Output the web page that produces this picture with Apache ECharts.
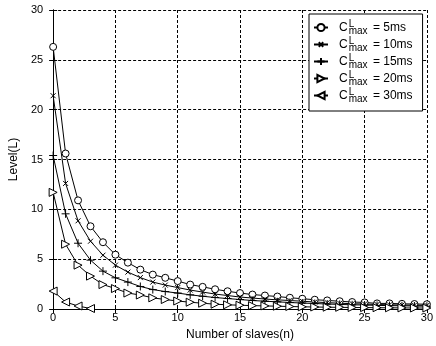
<!DOCTYPE html>
<html>
<head>
<meta charset="utf-8">
<script src="https://cdn.jsdelivr.net/npm/echarts@6/dist/echarts.min.js"></script>
<style>
  html, body { margin: 0; padding: 0; background: #fff; }
  #chart { width: 436px; height: 346px; }
</style>
</head>
<body>
<div id="chart"></div>
<script>
// Number of slaves on the x axis
const slaves = [0, 1, 2, 3, 4, 5, 6, 7, 8, 9, 10, 11, 12, 13, 14, 15, 16, 17, 18, 19, 20,
                21, 22, 23, 24, 25, 26, 27, 28, 29, 30];

// Tick values shared by both axes
const xTicks = [0, 5, 10, 15, 20, 25, 30];
const yTicks = [0, 5, 10, 15, 20, 25, 30];

// Level L for each C^L_max bound
const level5ms  = [26.3, 15.6, 10.9, 8.3, 6.7, 5.45, 4.65, 3.95, 3.45, 3.13, 2.8, 2.45, 2.22, 1.98, 1.78,
                   1.6, 1.45, 1.35, 1.25, 1.13, 1.03, 0.93, 0.86, 0.78, 0.7, 0.66, 0.56, 0.56, 0.52, 0.5, 0.48];
const level10ms = [21.4, 12.6, 8.85, 6.8, 5.4, 4.4, 3.7, 3.15, 2.7, 2.4, 2.15, 1.9, 1.7, 1.5, 1.35,
                   1.2, 1.1, 1.0, 0.92, 0.85, 0.78, 0.7, 0.64, 0.58, 0.53, 0.5, 0.45, 0.42, 0.4, 0.38, 0.36];
const level15ms = [15.4, 9.55, 6.6, 4.9, 3.8, 3.13, 2.7, 2.26, 1.95, 1.75, 1.6, 1.42, 1.28, 1.15, 1.05,
                   0.95, 0.85, 0.78, 0.72, 0.65, 0.6, 0.55, 0.5, 0.46, 0.42, 0.4, 0.36, 0.34, 0.32, 0.3, 0.28];
const level20ms = [11.7, 6.5, 4.4, 3.3, 2.45, 2.05, 1.6, 1.4, 1.12, 0.95, 0.8, 0.68, 0.58, 0.48, 0.42,
                   0.38, 0.34, 0.31, 0.28, 0.25, 0.22, 0.2, 0.18, 0.17, 0.15, 0.14, 0.13, 0.12, 0.11, 0.1, 0.1];
const level30ms = [1.8, 0.7, 0.3, 0.05];

const seriesNames = ['5ms', '10ms', '15ms', '20ms', '30ms'];

const INK = '#000';
const FONT = '"Liberation Sans", Arial, sans-serif';

function pairs(values) {
  return values.map((v, i) => [slaves[i], v]);
}

// Hollow marker outlines drawn with a 1px stroke:
// circle, small cross (padded box keeps it small), plus, right / left triangles
const markers = [
  { symbol: 'path://M10,5A5,5,0,1,1,0,5A5,5,0,1,1,10,5Z', size: 7 },
  { symbol: 'path://M0,0L0,0M3,3L13,13M13,3L3,13M16,16L16,16', size: 8 },
  { symbol: 'path://M5,0L5,10M0,5L10,5', size: 8 },
  { symbol: 'path://M0,0L9,5L0,10Z', size: 8 },
  { symbol: 'path://M9,0L0,5L9,10Z', size: 8 }
];
const levels = [level5ms, level10ms, level15ms, level20ms, level30ms];

const series = levels.map((vals, k) => ({
  name: seriesNames[k],
  type: 'line',
  data: pairs(vals),
  symbol: markers[k].symbol,
  symbolSize: markers[k].size,
  showAllSymbol: true,
  animation: false,
  lineStyle: { color: INK, width: 1 },
  itemStyle: { color: '#fff', borderColor: INK, borderWidth: 1 },
  emphasis: { disabled: true },
  z: 3
}));

function axisBase(ticks) {
  return {
    type: 'value',
    min: ticks[0],
    max: ticks[ticks.length - 1],
    interval: ticks[1] - ticks[0]
  };
}

const tickStyle = { show: true, inside: true, length: 4, lineStyle: { color: INK, width: 1 } };
const lineStyleAxis = { show: true, lineStyle: { color: INK, width: 1 } };

const option = {
  backgroundColor: '#fff',
  animation: false,
  grid: { left: 47, top: 10, width: 381, height: 299, containLabel: false },
  legend: {
    orient: 'vertical',
    left: 309,
    top: 14,
    padding: [5, 10, 7, 4],
    itemGap: 0,
    itemWidth: 14,
    itemHeight: 9,
    backgroundColor: '#fff',
    borderColor: INK,
    borderWidth: 1,
    borderRadius: 0,
    selectedMode: false,
    data: seriesNames,
    formatter: name => '{c|C}{s|L}{m|max}{e| = ' + name + '}',
    textStyle: {
      color: INK,
      fontFamily: FONT,
      lineHeight: 17,
      rich: {
        c: { fontSize: 12, fontFamily: FONT, color: INK, lineHeight: 17, verticalAlign: 'middle', padding: [0, 1, 0, 6] },
        s: { fontSize: 10, fontFamily: FONT, color: INK, lineHeight: 17, verticalAlign: 'top', width: 0 },
        m: { fontSize: 10, fontFamily: FONT, color: INK, lineHeight: 17, verticalAlign: 'bottom' },
        e: { fontSize: 12, fontFamily: FONT, color: INK, lineHeight: 17, verticalAlign: 'middle', padding: [0, 0, 0, 2] }
      }
    }
  },
  xAxis: [
    Object.assign(axisBase(xTicks), {
      position: 'bottom',
      name: 'Number of slaves(n)',
      nameLocation: 'middle',
      nameGap: 20,
      nameTextStyle: { color: INK, fontFamily: FONT, fontSize: 12 },
      axisLine: lineStyleAxis,
      axisTick: tickStyle,
      axisLabel: { color: INK, fontFamily: FONT, fontSize: 11, margin: 3 },
      splitLine: { show: true, lineStyle: { color: INK, width: 1, type: [3, 2] } }
    }),
    Object.assign(axisBase(xTicks), {
      position: 'top',
      axisLine: lineStyleAxis,
      axisTick: tickStyle,
      axisLabel: { show: false },
      splitLine: { show: false }
    })
  ],
  yAxis: [
    Object.assign(axisBase(yTicks), {
      position: 'left',
      name: 'Level(L)',
      nameLocation: 'middle',
      nameGap: 22,
      nameTextStyle: { color: INK, fontFamily: FONT, fontSize: 12 },
      axisLine: lineStyleAxis,
      axisTick: tickStyle,
      axisLabel: { color: INK, fontFamily: FONT, fontSize: 11, margin: 10 },
      splitLine: { show: true, lineStyle: { color: INK, width: 1, type: [3, 2] } }
    }),
    Object.assign(axisBase(yTicks), {
      position: 'right',
      axisLine: lineStyleAxis,
      axisTick: tickStyle,
      axisLabel: { show: false },
      splitLine: { show: false }
    })
  ],
  series: series
};

const chart = echarts.init(document.getElementById('chart'), null, { renderer: 'canvas' });
chart.setOption(option);
</script>
</body>
</html>
